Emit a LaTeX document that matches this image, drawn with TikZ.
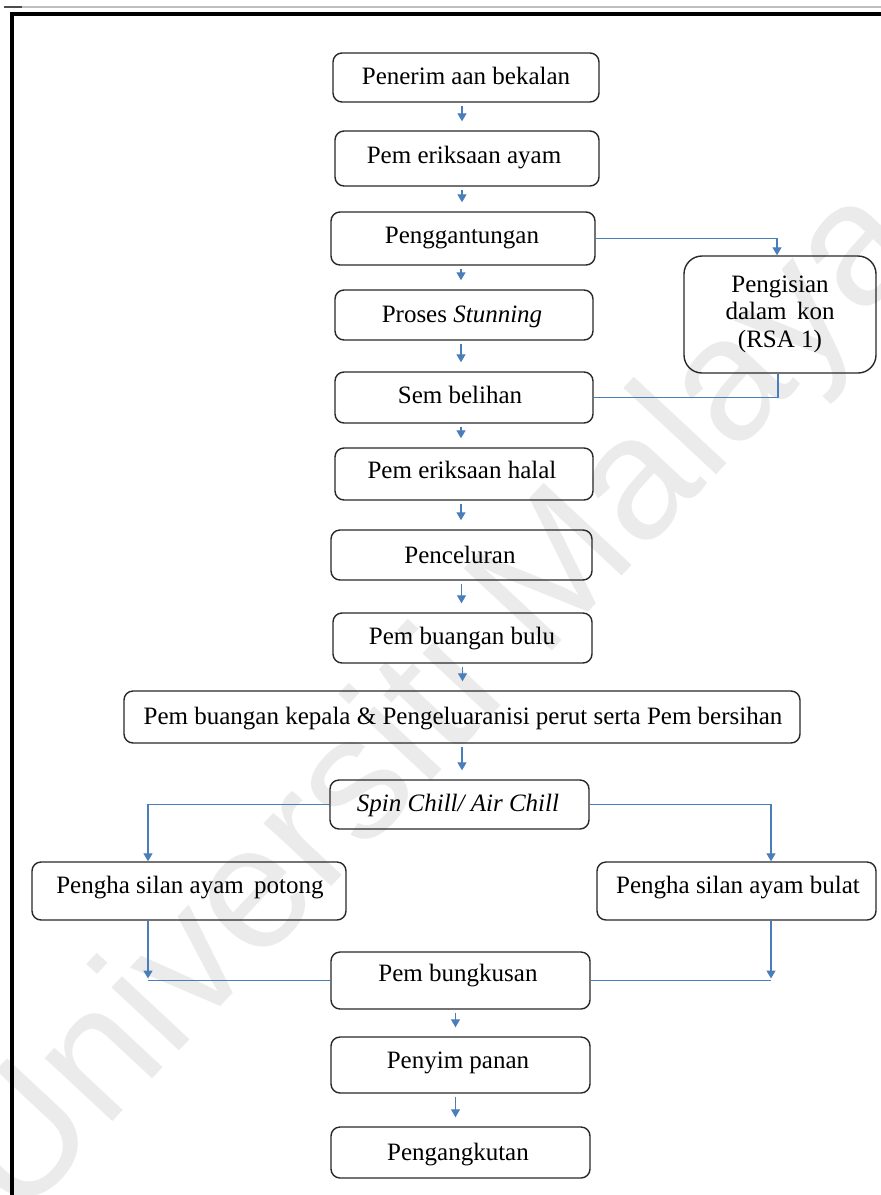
\documentclass[tikz,border=0pt]{standalone}
\usepackage{fontspec}
\setmainfont{Liberation Serif}
\newfontfamily\wmfamily{Liberation Sans}
\usetikzlibrary{arrows.meta,calc}
\definecolor{flowblue}{RGB}{74,126,187}
\definecolor{boxline}{RGB}{40,40,40}
\begin{document}
\begin{tikzpicture}[x=1pt,y=-1pt,
  stepbox/.style={draw=boxline, line width=1.4pt, rounded corners=9pt, inner sep=0pt},
  lbl/.style={anchor=base, inner sep=0pt, font=\fontsize{25}{30}\selectfont},
  flow/.style={draw=flowblue, line width=1.3pt},
  arr/.style={flow, -{Triangle[width=9pt,length=8pt]}},
  vstep/.style={arr, shorten <=3pt, shorten >=9pt}]
\useasboundingbox (0,0) rectangle (881,1195);

% watermark behind the chart
\node[rotate=47, text=black!8, inner sep=0pt, font=\wmfamily\fontsize{175}{180}\selectfont] (wm) at (440,705) {Universiti Malaya};

% page frame
\draw[black!25, line width=1.5pt] (10,7) -- (881,7);
\draw[black!70, line width=2pt] (4,7) -- (22,7);
\draw[black, line width=4pt] (12,1195) -- (12,14) -- (881,14);

% process boxes
\node[stepbox, minimum width=266pt, minimum height=49pt] (b1) at (466,77.5) {};
\node[stepbox, minimum width=264pt, minimum height=55pt] (b2) at (467,158.5) {};
\node[stepbox, minimum width=264pt, minimum height=53pt] (b3) at (463,238.5) {};
\node[stepbox, minimum width=258pt, minimum height=50pt] (b4) at (464,315) {};
\node[stepbox, minimum width=258pt, minimum height=51pt] (b5) at (464,397.5) {};
\node[stepbox, minimum width=258pt, minimum height=52pt] (b6) at (464,474) {};
\node[stepbox, minimum width=261pt, minimum height=50pt] (b7) at (461.5,555) {};
\node[stepbox, minimum width=259pt, minimum height=50pt] (b8) at (462.5,638) {};
\node[stepbox, minimum width=676pt, minimum height=52pt] (b9) at (462,717) {};
\node[stepbox, minimum width=259pt, minimum height=49pt] (b10) at (459.5,804.5) {};
\node[stepbox, minimum width=314pt, minimum height=58pt] (b11) at (189,891) {};
\node[stepbox, minimum width=279pt, minimum height=58pt] (b12) at (736.5,891) {};
\node[stepbox, minimum width=259pt, minimum height=57pt] (b13) at (460.5,980.5) {};
\node[stepbox, minimum width=259pt, minimum height=56pt] (b14) at (460.5,1065) {};
\node[stepbox, minimum width=259pt, minimum height=51pt] (b15) at (460.5,1152.5) {};
\node[stepbox, minimum width=192pt, minimum height=117pt, rounded corners=18pt] (kon) at (780,314.5) {};

% box texts
\node[lbl] (t1) at (466,84) {Penerim aan bekalan};
\node[lbl] (t2) at (464,163) {Pem eriksaan ayam};
\node[lbl] (t3) at (462,243) {Penggantungan};
\node[lbl] (t4) at (462,322) {Proses \textit{Stunning}};
\node[lbl] (t5) at (460,403) {Sem belihan};
\node[lbl] (t6) at (462,478) {Pem eriksaan halal};
\node[lbl] (t7) at (460,563) {Penceluran};
\node[lbl] (t8) at (462,644) {Pem buangan bulu};
\node[lbl] (t9) at (463,724) {Pem buangan kepala \& Pengeluaranisi perut serta Pem bersihan};
\node[lbl] (t10) at (458,811) {\textit{Spin Chill/ Air Chill}};
\node[lbl] (t11) at (190,893) {Pengha silan ayam\, potong};
\node[lbl] (t12) at (738,893) {Pengha silan ayam bulat};
\node[lbl] (t13) at (458,981) {Pem bungkusan};
\node[lbl] (t14) at (458,1068) {Penyim panan};
\node[lbl] (t15) at (458,1160) {Pengangkutan};
\node[lbl] (k1) at (780,292) {Pengisian};
\node[lbl] (k2) at (780,319) {dalam\,\ kon};
\node[lbl] (k3) at (780,347) {(RSA 1)};

% main line of steps
\draw[vstep] ([xshift=-4pt]b1.south) -- ([xshift=-4pt]b1.south |- b2.north);
\draw[vstep] ([xshift=-5pt]b2.south) -- ([xshift=-5pt]b2.south |- b3.north);
\draw[vstep] ([xshift=-2pt]b3.south) -- ([xshift=-2pt]b3.south |- b4.north);
\draw[vstep] ([xshift=-3pt]b4.south) -- ([xshift=-3pt]b4.south |- b5.north);
\draw[vstep] ([xshift=-3pt]b5.south) -- ([xshift=-3pt]b5.south |- b6.north);
\draw[vstep] ([xshift=-3pt]b6.south) -- ([xshift=-3pt]b6.south |- b7.north);
\draw[vstep] (b7.south) -- (b7.south |- b8.north);
\draw[vstep] (b8.south) -- (b8.south |- b9.north);
\draw[vstep] (b9.south) -- (b9.south |- b10.north);
\draw[vstep] ([xshift=-5pt]b13.south) -- ([xshift=-5pt]b13.south |- b14.north);
\draw[vstep] ([xshift=-5pt]b14.south) -- ([xshift=-5pt]b14.south |- b15.north);

% side loop through the cone filling
\draw[arr] (b3.east) -| ([xshift=-3pt]kon.north);
\draw[flow] ([xshift=-2pt]kon.south) |- (b5.east);

% split after chilling
\draw[arr] (b10.west) -| ([xshift=-41pt]b11.north);
\draw[arr] (b10.east) -| ([xshift=34.5pt]b12.north);

% merge into packing
\coordinate (ml) at ([xshift=-41pt]b11.south |- b13.west);
\coordinate (mr) at ([xshift=34.5pt]b12.south |- b13.east);
\draw[arr, shorten >=2pt] ([xshift=-41pt]b11.south) -- (ml);
\draw[flow] (ml) -- (b13.west);
\draw[arr, shorten >=2pt] ([xshift=34.5pt]b12.south) -- (mr);
\draw[flow] (b13.east) -- (mr);
\end{tikzpicture}
\end{document}
